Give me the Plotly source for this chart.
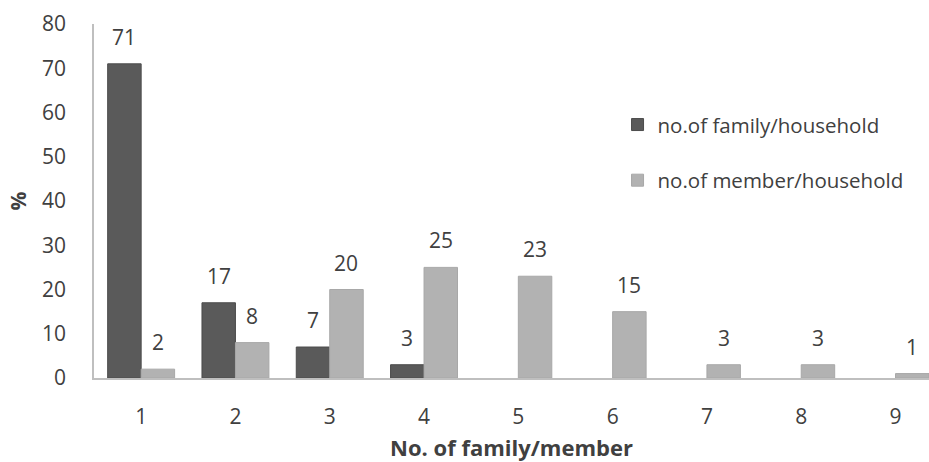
import plotly.graph_objects as go

categories = [1, 2, 3, 4, 5, 6, 7, 8, 9]
family_per_household = [71, 17, 7, 3, None, None, None, None, None]
member_per_household = [2, 8, 20, 25, 23, 15, 3, 3, 1]

series_names = ["no.of family/household", "no.of member/household"]
x_title = "No. of family/member"
y_title = "%"

DARK = "#5a5a5a"
LIGHT = "#b2b2b2"
TEXT = "#404040"
FONT = "Open Sans"
FS = 21

bargap = 0.29
bar_w = (1 - bargap) / 2
offs = [-bar_w / 2, bar_w / 2]

fig = go.Figure()
for name, vals, col, line in [
    (series_names[0], family_per_household, DARK, "#4c4c4c"),
    (series_names[1], member_per_household, LIGHT, "#a8a8a8"),
]:
    fig.add_trace(go.Bar(
        x=categories, y=vals, name=name, legendgroup=name,
        marker=dict(color=col, line=dict(color=line, width=1)),
    ))

# value labels above each bar
for vals, off in zip([family_per_household, member_per_household], offs):
    for c, v in zip(categories, vals):
        if v is None:
            continue
        fig.add_annotation(
            x=c + off, y=v, text=str(v), showarrow=False,
            yanchor="bottom", yshift=11,
            font=dict(family=FONT, size=FS, color=TEXT),
        )

fig.update_layout(
    width=929, height=462,
    margin=dict(l=94, r=0, t=24, b=84, autoexpand=False),
    plot_bgcolor="white", paper_bgcolor="white",
    barmode="group", bargap=bargap, bargroupgap=0,
    font=dict(family=FONT, size=FS, color=TEXT),
    showlegend=True,
    legend=dict(
        x=0.627, y=0.772, xanchor="left", yanchor="top",
        bgcolor="rgba(0,0,0,0)", font=dict(family=FONT, size=20.5, color=TEXT),
        traceorder="grouped", tracegroupgap=26,
        itemwidth=30,
    ),
    xaxis=dict(
        range=[0.5, 9.355], tickmode="array", tickvals=categories,
        ticktext=[str(c) for c in categories],
        showgrid=False, zeroline=False, showline=True,
        linecolor="#bfbfbf", linewidth=1.5, ticks="",
        ticklabelstandoff=19,
        title=dict(text="<b>" + x_title + "</b>", standoff=14,
                   font=dict(family=FONT, size=22, color=TEXT)),
        tickfont=dict(family=FONT, size=FS, color=TEXT),
    ),
    yaxis=dict(
        range=[0, 80], dtick=10, showgrid=False, zeroline=False,
        showline=True, linecolor="#bfbfbf", linewidth=1.5, ticks="",
        ticklabelstandoff=22,
        title=dict(text="<b>" + y_title + "</b>", standoff=10,
                   font=dict(family=FONT, size=FS, color=TEXT)),
        tickfont=dict(family=FONT, size=FS, color=TEXT),
    ),
)

fig.write_html("out.html")
